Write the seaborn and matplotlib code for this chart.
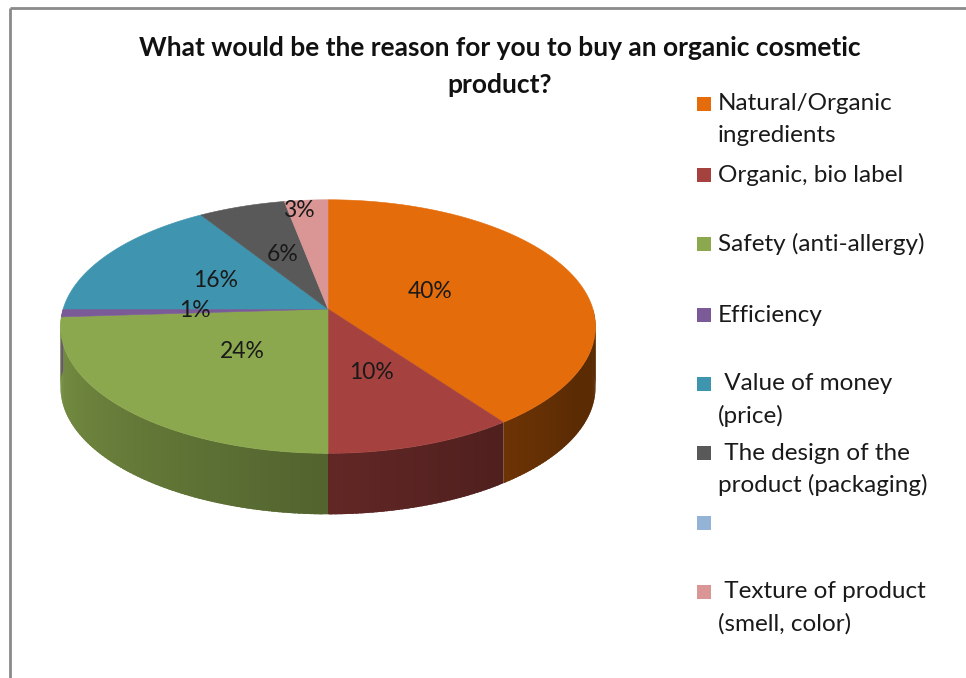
import numpy as np
import matplotlib
matplotlib.use("Agg")
import matplotlib.pyplot as plt
import seaborn as sns

# ---- data -------------------------------------------------------------
categories = [
    "Natural/Organic\ningredients",
    "Organic, bio label",
    "Safety (anti-allergy)",
    "Efficiency",
    " Value of money\n(price)",
    " The design of the\nproduct (packaging)",
    "",
    " Texture of product\n(smell, color)",
]
values = [40, 10, 24, 1, 16, 6, 0, 3]
colors = ["#E46C0A", "#A5423F", "#8BA84E", "#7A5B97",
          "#3F95AF", "#595959", "#95B3D7", "#D99694"]
title_lines = ["What would be the reason for you to buy an organic cosmetic",
               "product?"]

# ---- style ------------------------------------------------------------
sns.set_theme(style="white")
plt.rcParams["font.family"] = ["Lato", "DejaVu Sans"]

fig = plt.figure(figsize=(9.66, 6.78), dpi=100)
ax = fig.add_axes([0, 0, 1, 1])
ax.set_xlim(0, 966)
ax.set_ylim(678, 0)
ax.axis("off")

# ---- 3-D pie geometry (perspective projection of a tilted disk) -------
cx, cy = 328.0, 309.0
tilt = np.radians(28.0)
dist = 6.38
focal = 1690.0
wall = 61.0          # height of the side wall in pixels


def proj(r, theta_deg):
    t = np.radians(theta_deg)
    X = r * np.sin(t)
    Z = r * np.cos(t)
    yc = Z * np.sin(tilt)
    zc = dist + Z * np.cos(tilt)
    return cx + focal * X / zc, cy - focal * yc / zc


def shade(hexcol, theta):
    # side wall lighting: darker on the right, lighter toward the left
    f = np.clip(0.40 + (theta - 120.0) / 150.0 * 0.48, 0.40, 0.90)
    return tuple(np.array(matplotlib.colors.to_rgb(hexcol)) * f)


total = float(sum(values))
bounds = np.concatenate([[0.0], np.cumsum(values) / total * 360.0])

# side walls (front half only), built from thin overlapping strips
for i, v in enumerate(values):
    if v <= 0:
        continue
    a0, a1 = bounds[i], bounds[i + 1]
    lo, hi = max(a0, 90.0), min(a1, 270.0)
    if hi <= lo:
        continue
    edges = np.linspace(lo, hi, max(2, int(hi - lo) + 2))
    for s0, s1 in zip(edges[:-1], edges[1:]):
        e1 = min(s1 + 0.8, hi)
        th = np.linspace(s0, e1, 4)
        tx, ty = proj(1.0, th)
        xs = np.concatenate([tx, tx[::-1]])
        ys = np.concatenate([ty, ty[::-1] + wall])
        ax.fill(xs, ys, color=shade(colors[i], 0.5 * (s0 + s1)),
                lw=0, zorder=2)

# top faces
for i, v in enumerate(values):
    if v <= 0:
        continue
    a0, a1 = bounds[i], bounds[i + 1]
    th = np.linspace(a0, a1, max(3, int(a1 - a0) * 2 + 2))
    rx, ry = proj(1.0, th)
    ax.fill(np.concatenate([[cx], rx]), np.concatenate([[cy], ry]),
            color=colors[i], lw=0.4, ec=colors[i], zorder=3)

# percentage labels
label_r = {0: 0.42, 2: 0.45, 7: 0.90}
label_t = {0: 69.6, 7: 352.0}
for i, v in enumerate(values):
    if v <= 0:
        continue
    mid = 0.5 * (bounds[i] + bounds[i + 1])
    lx, ly = proj(label_r.get(i, 0.5), label_t.get(i, mid))
    ax.text(lx, ly, f"{v}%", ha="center", va="center", fontsize=16.5,
            color="#1a1a1a", zorder=5)

# ---- title ------------------------------------------------------------
for k, line in enumerate(title_lines):
    ax.text(500, 48 + 37 * k, line, ha="center", va="center",
            fontsize=19, fontweight="bold", color="#111111")

# ---- legend -----------------------------------------------------------
leg_y = [104, 175, 244, 315, 384, 453, 523, 592]
for i, lab in enumerate(categories):
    y0 = leg_y[i]
    ax.add_patch(plt.Rectangle((697, y0 - 7), 14, 14, color=colors[i],
                               lw=0, zorder=4))
    for k, line in enumerate(lab.split("\n")):
        ax.text(718, y0 + 32 * k, line, ha="left", va="center",
                fontsize=17.5, color="#1a1a1a")

# ---- chart border -----------------------------------------------------
ax.plot([10, 10], [678, 7.5], color="#8a8a8a", lw=2.0, solid_capstyle="butt")
ax.plot([10, 966], [7.5, 7.5], color="#8a8a8a", lw=2.0, solid_capstyle="butt")

fig.savefig("out.png", dpi=100)
